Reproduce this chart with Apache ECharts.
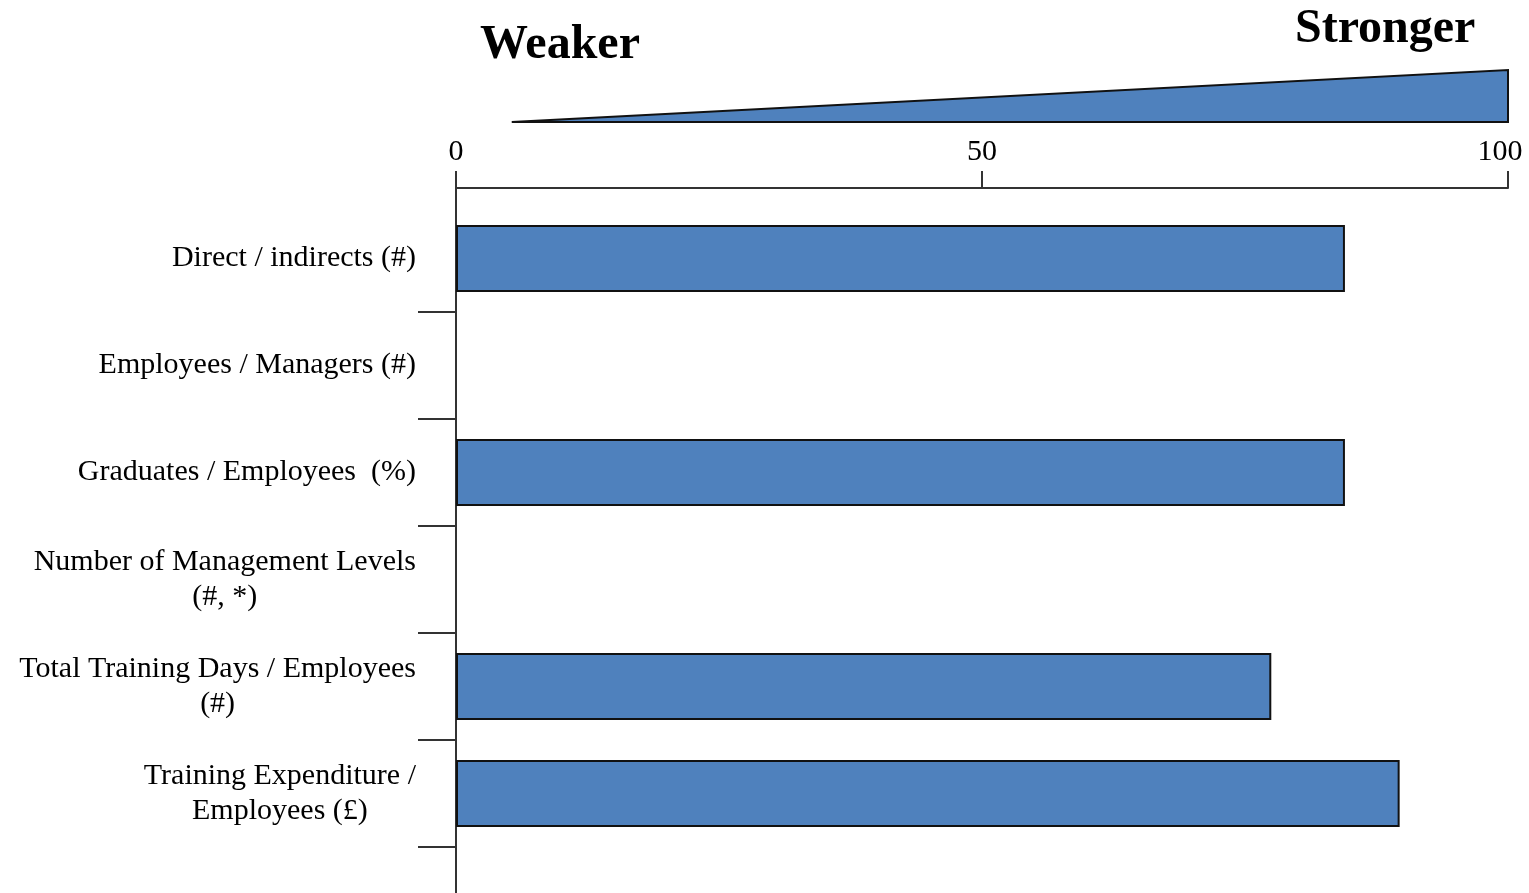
<!DOCTYPE html>
<html>
<head>
<meta charset="utf-8">
<title>Workforce indicators</title>
<script src="https://cdn.jsdelivr.net/npm/echarts@6/dist/echarts.min.js"></script>
<style>
  html, body { margin: 0; padding: 0; background: #fff; overflow: hidden; }
  #chart { width: 1529px; height: 893px; }
</style>
</head>
<body>
<div id="chart"></div>
<script>
// Indicator names (top to bottom) and their scores on a 0-100 scale
const categories = [
  'Direct / indirects (#)',
  'Employees / Managers (#)',
  'Graduates / Employees  (%)',
  'Number of Management Levels\n(#, *)',
  'Total Training Days / Employees\n(#)',
  'Training Expenditure /\nEmployees (£)'
];
const scores = [84.5, null, 84.5, null, 77.5, 89.7];

// Scale ticks and the weaker -> stronger wedge span
const scaleTicks = [0, 50, 100];
const wedgeRange = [5.3, 100];
const scaleEnds = ['Weaker', 'Stronger'];

const BLUE = '#4F81BD';
const INK = '#111';
const AXIS = '#333';
const SERIF = '"Liberation Serif", "Times New Roman", serif';
const SCALE_MAX = scaleTicks[scaleTicks.length - 1];

const chart = echarts.init(document.getElementById('chart'), null, { renderer: 'canvas' });

// Multi-line labels get their lines centred inside the label block
function labelFormatter(value) {
  const lines = value.split('\n');
  if (lines.length === 1) return value;
  return lines.map(l => '{c|' + l + '}').join('\n');
}

// The last scale label is nudged inwards so it stays on the canvas
function scaleFormatter(value) {
  return value === SCALE_MAX ? '{m|' + value + '}' : String(value);
}

chart.setOption({
  animation: false,
  backgroundColor: '#fff',
  grid: [
    { left: 456, right: 21, top: 205, height: 642, outerBoundsMode: 'none' },
    { left: 456, right: 21, top: 188, bottom: 0, outerBoundsMode: 'none' }
  ],
  xAxis: [
    {
      type: 'value',
      gridIndex: 0,
      position: 'top',
      offset: 17,
      min: scaleTicks[0],
      max: SCALE_MAX,
      interval: scaleTicks[1] - scaleTicks[0],
      axisLine: { show: true, lineStyle: { color: AXIS, width: 2 } },
      axisTick: { show: true, length: 17, inside: false, lineStyle: { color: AXIS, width: 2 } },
      axisLabel: {
        margin: 21,
        color: '#000',
        fontFamily: SERIF,
        fontSize: 30,
        formatter: scaleFormatter,
        rich: {
          m: { color: '#000', fontFamily: SERIF, fontSize: 30, padding: [0, 16, 0, 0] }
        }
      },
      splitLine: { show: false }
    },
    { type: 'value', gridIndex: 1, show: false, min: 0, max: 1 }
  ],
  yAxis: [
    {
      type: 'category',
      gridIndex: 0,
      data: categories,
      inverse: true,
      axisLine: { show: false },
      axisTick: {
        show: true,
        length: 38,
        inside: false,
        interval: function (index) { return index > 0; },
        lineStyle: { color: AXIS, width: 2 }
      },
      axisLabel: {
        margin: 40,
        color: '#000',
        fontFamily: SERIF,
        fontSize: 30,
        lineHeight: 35,
        formatter: labelFormatter,
        rich: {
          c: { align: 'center', color: '#000', fontFamily: SERIF, fontSize: 30, lineHeight: 35 }
        }
      },
      splitLine: { show: false }
    },
    {
      // plain vertical rule running the full height of the plot
      type: 'value',
      gridIndex: 1,
      min: 0,
      max: 1,
      axisLine: { show: true, lineStyle: { color: AXIS, width: 2 } },
      axisTick: { show: false },
      axisLabel: { show: false },
      splitLine: { show: false }
    }
  ],
  series: [
    {
      type: 'bar',
      xAxisIndex: 0,
      yAxisIndex: 0,
      data: scores,
      barWidth: 67,
      itemStyle: { color: BLUE, borderColor: INK, borderWidth: 2 }
    }
  ]
});

// Wedge and end captions above the scale
const xL = chart.convertToPixel({ xAxisIndex: 0 }, wedgeRange[0]);
const xR = chart.convertToPixel({ xAxisIndex: 0 }, wedgeRange[1]);
chart.setOption({
  graphic: [
    {
      type: 'polygon',
      shape: { points: [[xL, 122], [xR, 70], [xR, 122]] },
      style: { fill: BLUE, stroke: INK, lineWidth: 2 }
    },
    {
      type: 'text',
      x: 480, y: 22,
      style: { text: scaleEnds[0], fill: '#000', font: 'bold 48px ' + SERIF, verticalAlign: 'top' }
    },
    {
      type: 'text',
      x: 1295, y: 6,
      style: { text: scaleEnds[1], fill: '#000', font: 'bold 48px ' + SERIF, verticalAlign: 'top' }
    }
  ]
});
</script>
</body>
</html>
